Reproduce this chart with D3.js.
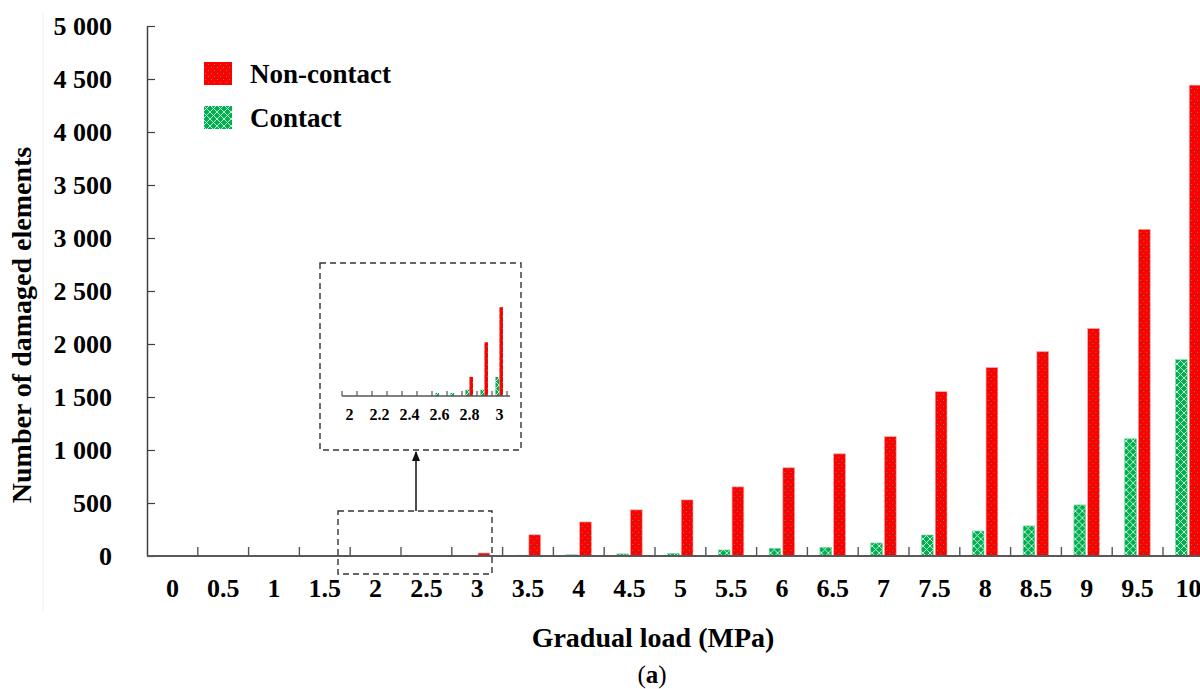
<!DOCTYPE html>
<html>
<head>
<meta charset="utf-8">
<script src="https://cdn.jsdelivr.net/npm/d3@7"></script>
<style>
  body { margin: 0; background: #fff; }
  text { font-family: "Liberation Serif", "Times New Roman", serif; font-weight: bold; fill: #000; }
</style>
</head>
<body>
<svg id="chart"></svg>
<script>
const width = 1200;
const height = 689;

// main chart data
const loads = ["0","0.5","1","1.5","2","2.5","3","3.5","4","4.5","5","5.5","6","6.5","7","7.5","8","8.5","9","9.5","10"];
const nonContact = [0,0,0,0,0,0,28,200,321,435,529,652,832,964,1125,1550,1777,1928,2145,3081,4442];
const contact = [0,0,0,0,0,0,3,8,12,20,25,57,73,82,123,198,236,284,482,1106,1852];
const yTicks = [0,500,1000,1500,2000,2500,3000,3500,4000,4500,5000];
const seriesNames = ["Contact", "Non-contact"];

// inset (zoom of 2 - 3 MPa)
const insetLoads = ["2","2.1","2.2","2.3","2.4","2.5","2.6","2.7","2.8","2.9","3"];
const insetNonContact = [0,0,0,0,0,0,0,0,4.3,12.1,20];
const insetContact = [0,0,0,0,0,0,0.7,0.7,1.4,1.4,4.3];
const insetLabels = ["2","2.2","2.4","2.6","2.8","3"];

let svg = d3.select("#chart").attr("width", width).attr("height", height);

// patterns
const defs = svg.append("defs");
const pRed = defs.append("pattern").attr("id", "pRed")
    .attr("patternUnits", "userSpaceOnUse").attr("width", 6).attr("height", 6);
pRed.append("rect").attr("width", 6).attr("height", 6).attr("fill", "#ff0000");
pRed.append("rect").attr("x", 1).attr("y", 1).attr("width", 1).attr("height", 1).attr("fill", "#3f9d6b");
pRed.append("rect").attr("x", 4).attr("y", 4).attr("width", 1).attr("height", 1).attr("fill", "#3f9d6b");

const pGreen = defs.append("pattern").attr("id", "pGreen")
    .attr("patternUnits", "userSpaceOnUse").attr("width", 7).attr("height", 7);
pGreen.append("rect").attr("width", 7).attr("height", 7).attr("fill", "#00b050");
pGreen.append("path").attr("d", "M0,0L7,7M7,0L0,7")
    .attr("stroke", "#d8f5e2").attr("stroke-width", 0.9).attr("fill", "none");

const fills = { "Contact": "url(#pGreen)", "Non-contact": "url(#pRed)" };
const edges = { "Contact": "#7fd9a5", "Non-contact": "#ff9a9a" };

// faint frame line of the original figure
svg.append("line").attr("x1", 43).attr("x2", 43).attr("y1", 12).attr("y2", 612)
    .attr("stroke", "#f0f0f0").attr("stroke-width", 1);

// scales
const x0 = d3.scaleBand().domain(loads).range([147, 147 + 21 * 50.8]);
const x1 = d3.scaleBand().domain(seriesNames).range([12.5, 38]).paddingInner(0.15);
const y = d3.scaleLinear().domain([0, 5000]).range([556, 26]);

const rows = loads.map((d, i) => ({ load: d, "Contact": contact[i], "Non-contact": nonContact[i] }));

// bars
svg.append("g").selectAll("g")
    .data(rows)
    .enter()
    .append("g")
    .attr("transform", d => `translate(${x0(d.load)},0)`)
    .selectAll("rect")
    .data(d => seriesNames.map(s => ({ s: s, v: d[s] })).filter(e => e.v > 0))
    .enter()
    .append("rect")
    .attr("x", d => x1(d.s))
    .attr("width", x1.bandwidth())
    .attr("y", d => y(d.v))
    .attr("height", d => y(0) - y(d.v))
    .attr("fill", d => fills[d.s])
    .attr("stroke", d => edges[d.s])
    .attr("stroke-width", 0.6);

// y axis
const yAxis = svg.append("g").attr("transform", "translate(147,0)")
    .call(d3.axisLeft(y).tickValues(yTicks)
        .tickSizeInner(-8).tickSizeOuter(0).tickPadding(35)
        .tickFormat(d => d3.format(",")(d).replace(/,/g, " ")));
yAxis.select(".domain").attr("stroke", "#404040").attr("stroke-width", 1.5);
yAxis.selectAll(".tick line").attr("stroke", "#404040").attr("stroke-width", 1.2);
yAxis.selectAll("text").style("font-size", "26px").attr("font-family", null);

// x axis
svg.append("line").attr("x1", 147).attr("x2", width).attr("y1", 556).attr("y2", 556)
    .attr("stroke", "#595959").attr("stroke-width", 2);
svg.append("g").selectAll("line")
    .data(loads.slice(1))
    .enter()
    .append("line")
    .attr("x1", d => x0(d)).attr("x2", d => x0(d))
    .attr("y1", 556).attr("y2", 547)
    .attr("stroke", "#555").attr("stroke-width", 1.4);
const xAxis = svg.append("g").attr("transform", "translate(0,556)")
    .call(d3.axisBottom(x0).tickSize(0).tickPadding(23));
xAxis.select(".domain").remove();
xAxis.selectAll("text").style("font-size", "26px").attr("font-family", null);

// axis titles
svg.append("text")
    .attr("transform", "translate(31,325) rotate(-90)")
    .attr("text-anchor", "middle")
    .style("font-size", "28px")
    .text("Number of damaged elements");
svg.append("text")
    .attr("x", 653).attr("y", 647)
    .attr("text-anchor", "middle")
    .style("font-size", "28px")
    .text("Gradual load (MPa)");
const cap = svg.append("text")
    .attr("x", 652).attr("y", 683)
    .attr("text-anchor", "middle")
    .style("font-size", "25px")
    .style("font-weight", "normal");
cap.append("tspan").text("(");
cap.append("tspan").style("font-weight", "bold").text("a");
cap.append("tspan").text(")");

// legend
const legend = svg.append("g");
const legendItems = [
    { name: "Non-contact", y: 62 },
    { name: "Contact", y: 106 }
];
legend.selectAll("rect")
    .data(legendItems)
    .enter()
    .append("rect")
    .attr("x", 204).attr("y", d => d.y)
    .attr("width", 28).attr("height", 23)
    .attr("fill", d => fills[d.name]);
legend.selectAll("text")
    .data(legendItems)
    .enter()
    .append("text")
    .attr("x", 250).attr("y", d => d.y + 12)
    .attr("dy", "0.35em")
    .style("font-size", "27px")
    .text(d => d.name);

// dashed zoom boxes and arrow
const dash = "6,4";
svg.append("rect").attr("x", 338).attr("y", 511).attr("width", 154).attr("height", 63)
    .attr("fill", "none").attr("stroke", "#333").attr("stroke-width", 1.4).attr("stroke-dasharray", dash);
svg.append("rect").attr("x", 320).attr("y", 263).attr("width", 201).attr("height", 187)
    .attr("fill", "none").attr("stroke", "#333").attr("stroke-width", 1.4).attr("stroke-dasharray", dash);

defs.append("marker").attr("id", "arrow")
    .attr("viewBox", "0 0 10 10").attr("refX", 9).attr("refY", 5)
    .attr("markerWidth", 7).attr("markerHeight", 7).attr("orient", "auto")
    .append("path").attr("d", "M0,1L10,5L0,9Z").attr("fill", "#111");
svg.append("line").attr("x1", 416).attr("x2", 416).attr("y1", 511).attr("y2", 452)
    .attr("stroke", "#111").attr("stroke-width", 1.5).attr("marker-end", "url(#arrow)");

// inset chart
const ix0 = d3.scaleBand().domain(insetLoads).range([342, 507]);
const ix1 = d3.scaleBand().domain(seriesNames).range([3.5, 11]).paddingInner(0.1);
const iy = d3.scaleLinear().domain([0, 25]).range([396, 285]);
const insetRows = insetLoads.map((d, i) => ({ load: d, "Contact": insetContact[i], "Non-contact": insetNonContact[i] }));

svg.append("g").selectAll("g")
    .data(insetRows)
    .enter()
    .append("g")
    .attr("transform", d => `translate(${ix0(d.load)},0)`)
    .selectAll("rect")
    .data(d => seriesNames.map(s => ({ s: s, v: d[s] })).filter(e => e.v > 0))
    .enter()
    .append("rect")
    .attr("x", d => ix1(d.s))
    .attr("width", ix1.bandwidth())
    .attr("y", d => iy(d.v))
    .attr("height", d => iy(0) - iy(d.v))
    .attr("fill", d => fills[d.s]);

svg.append("line").attr("x1", 342).attr("x2", 510).attr("y1", 396).attr("y2", 396)
    .attr("stroke", "#555").attr("stroke-width", 1.4);
svg.append("g").selectAll("line")
    .data(insetLoads.concat(["end"]))
    .enter()
    .append("line")
    .attr("x1", d => d === "end" ? ix0.range()[1] : ix0(d))
    .attr("x2", d => d === "end" ? ix0.range()[1] : ix0(d))
    .attr("y1", 396).attr("y2", 391)
    .attr("stroke", "#555").attr("stroke-width", 1.2);
const ixAxis = svg.append("g").attr("transform", "translate(0,396)")
    .call(d3.axisBottom(ix0).tickValues(insetLabels).tickSize(0).tickPadding(13));
ixAxis.select(".domain").remove();
ixAxis.selectAll("text").style("font-size", "16px").attr("font-family", null);
</script>
</body>
</html>
